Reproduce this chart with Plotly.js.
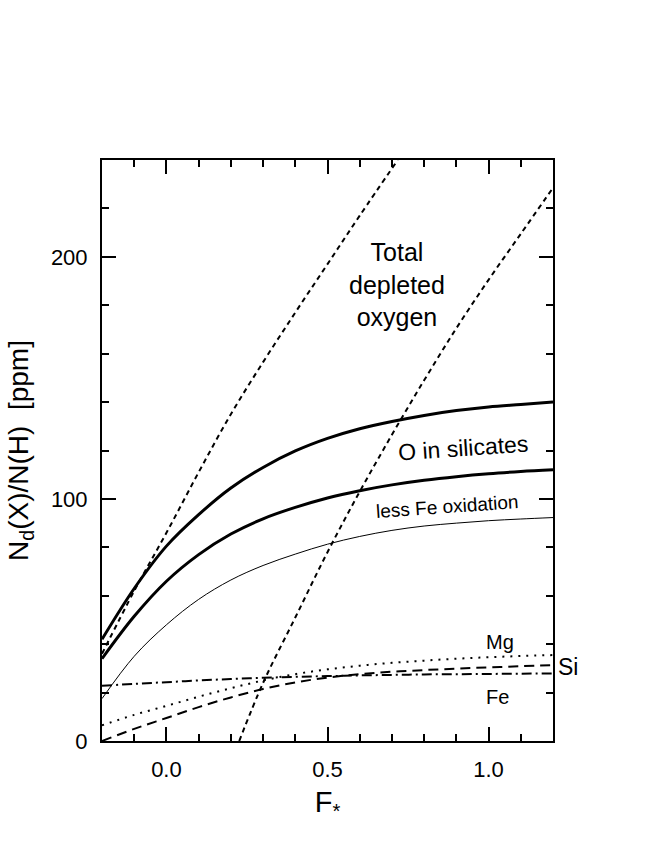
<!DOCTYPE html>
<html>
<head>
<meta charset="utf-8">
<script src="https://cdn.plot.ly/plotly-3.0.1.min.js"></script>
<style>
  html, body { margin: 0; padding: 0; background: #fff; }
  #chart { width: 654px; height: 846px; }
</style>
</head>
<body>
<div id="chart"></div>
<script>
// F* grid shared by the smooth curves
const fGrid = [-0.2, -0.1, 0.0, 0.1, 0.2, 0.3, 0.4, 0.5, 0.6, 0.7, 0.8, 0.9, 1.0, 1.1, 1.2];

// O in silicates (thick), less Fe oxidation (thick + thin)
const oSilicates   = [42, 63, 80.5, 93.5, 104.5, 113, 119.8, 125, 129, 132, 134.5, 136.5, 138, 139, 140];
const oLessFeThick = [34, 51.5, 66, 77, 85.5, 91.8, 96.5, 100.4, 103.4, 105.8, 107.7, 109.2, 110.4, 111.3, 112];
const oLessFeThin  = [17.5, 35, 48, 58.5, 66.5, 72.5, 77.2, 81.3, 84.5, 87, 88.8, 90, 91, 91.7, 92.3];

// metals
const mgVals = [6.5, 10.8, 14.5, 18.3, 21.8, 25, 27.6, 29.6, 31.1, 32.3, 33.2, 34, 34.6, 35.1, 35.5];
const siVals = [0, 5, 9.5, 14, 18, 21.5, 24.2, 26.2, 27.6, 28.6, 29.3, 29.9, 30.4, 30.9, 31.3];
const feVals = [22.8, 23.6, 24.3, 25, 25.6, 26.1, 26.5, 26.8, 27.1, 27.3, 27.5, 27.6, 27.7, 27.8, 27.9];

// total depleted oxygen, two references
const totAx = [-0.2, -0.1, 0.0, 0.1, 0.2, 0.3, 0.4, 0.5, 0.6, 0.718];
const totAy = [36, 62, 86, 111, 135, 156.5, 177, 197, 217, 240];
const totBx = [0.226, 0.3, 0.4, 0.5, 0.6, 0.7, 0.8, 0.9, 1.0, 1.1, 1.2];
const totBy = [0, 24, 51, 78, 103, 126.5, 149, 170.5, 190.5, 209.5, 228.5];

const xTicks = [0, 0.5, 1.0];
const yTicks = [0, 100, 200];

const FONT = "Liberation Sans, Arial, sans-serif";

function line(x, y, width, dash) {
  return {
    x: x, y: y, type: "scatter", mode: "lines",
    line: { color: "#000", width: width, dash: dash, shape: "spline", smoothing: 1 },
    hoverinfo: "skip", showlegend: false
  };
}

const data = [
  line(totAx, totAy, 2, "5px,4px"),
  line(totBx, totBy, 2, "5px,4px"),
  line(fGrid, oSilicates, 3, "solid"),
  line(fGrid, oLessFeThick, 3, "solid"),
  line(fGrid, oLessFeThin, 1, "solid"),
  line(fGrid, mgVals, 2, "2px,6px"),
  line(fGrid, siVals, 2, "10px,6px"),
  line(fGrid, feVals, 2, "10px,4px,2px,4px")
];

const axisCommon = {
  showline: true, linecolor: "#000", linewidth: 2, mirror: "ticks",
  ticks: "inside", tickcolor: "#000", tickwidth: 2, ticklen: 14,
  showgrid: false, zeroline: false,
  tickfont: { family: FONT, size: 22, color: "#000" }
};

function label(x, y, xref, text, size, angle) {
  return {
    x: x, y: y, xref: xref, yref: "y", text: text, textangle: angle || 0,
    xanchor: "center", yanchor: "middle", showarrow: false,
    font: { family: FONT, size: size, color: "#000" }
  };
}

const layout = {
  width: 654, height: 846,
  margin: { l: 102, r: 101, t: 160, b: 105 },
  paper_bgcolor: "#fff", plot_bgcolor: "#fff",
  font: { family: FONT, color: "#000" },
  xaxis: Object.assign({}, axisCommon, {
    range: [-0.2, 1.2], tickvals: xTicks, tickformat: ".1f",
    ticklabelstandoff: 8,
    minor: { dtick: 0.1, tick0: 0, ticks: "inside", ticklen: 7, tickwidth: 2, tickcolor: "#000" },
    title: { text: "F<sub>*</sub>", font: { family: FONT, size: 29 }, standoff: 10 }
  }),
  yaxis: Object.assign({}, axisCommon, {
    range: [0, 240], tickvals: yTicks,
    ticklabelstandoff: 8,
    minor: { dtick: 20, tick0: 0, ticks: "inside", ticklen: 7, tickwidth: 2, tickcolor: "#000" },
    title: { text: "N<sub>d</sub>(X)/N(H)\u00a0\u00a0[ppm]", font: { family: FONT, size: 28 }, standoff: 14 }
  }),
  annotations: [
    label(0.717, 188.4, "x", "Total<br>depleted<br>oxygen", 25),
    label(0.922, 121, "x", "O in silicates", 23, -4),
    label(0.873, 96.8, "x", "less Fe oxidation", 19, -4),
    label(1.034, 41, "x", "Mg", 20),
    label(1.034, 30.7, "paper", "Si", 23),
    label(1.029, 18.3, "x", "Fe", 20)
  ]
};

Plotly.newPlot("chart", data, layout, { staticPlot: true, displayModeBar: false });
</script>
</body>
</html>
